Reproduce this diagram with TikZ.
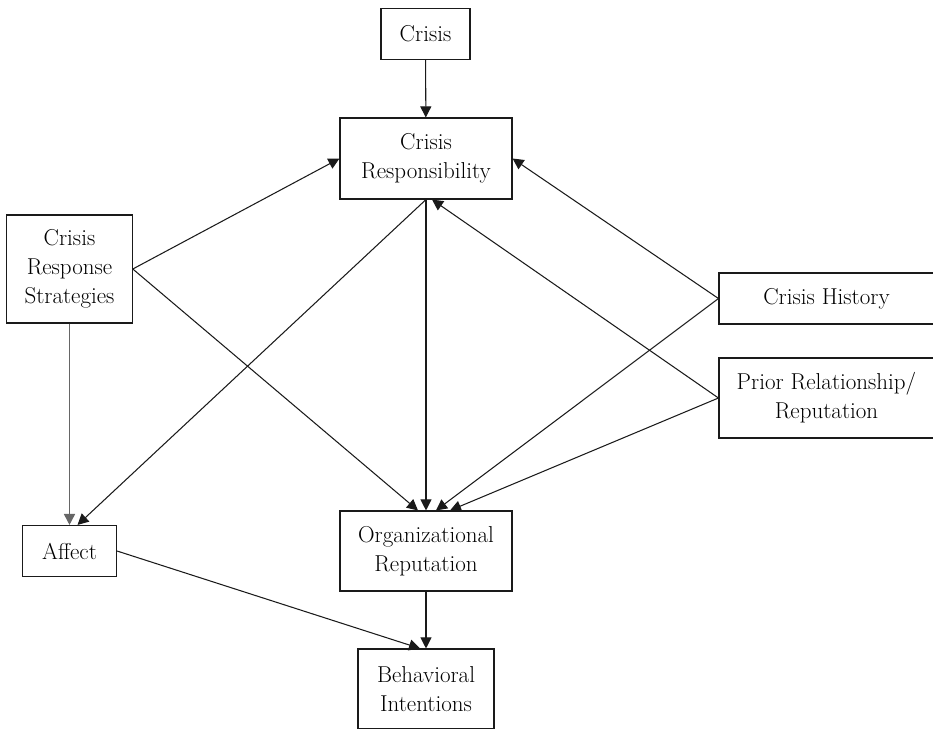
\documentclass[tikz,border=0pt]{standalone}
\usetikzlibrary{arrows.meta,calc}
\definecolor{ink}{HTML}{1A1A1A}
\definecolor{greyline}{HTML}{666666}
\tikzset{
  box/.style={draw=ink, line width=1.1pt, fill=white, inner sep=0pt, align=center,
    font=\fontsize{23}{29}\selectfont, text=black},
  link/.style={draw=ink, line width=1.05pt, -{Triangle[length=11pt,width=11pt]}},
}
\begin{document}
\begin{tikzpicture}[x=1pt,y=-1pt]
\useasboundingbox (0,0) rectangle (933,728);
\node[box, minimum width=89pt, minimum height=51pt] (crisis) at (425.5,34) {Crisis};
\node[box, minimum width=172pt, minimum height=81pt] (resp) at (426,158.5) {Crisis\\Responsibility};
\node[box, minimum width=125.5pt, minimum height=108pt] (crs) at (69.5,269) {Crisis\\Response\\Strategies};
\node[box, minimum width=215pt, minimum height=51pt] (hist) at (826.5,298.5) {Crisis History};
\node[box, minimum width=215pt, minimum height=80pt] (prior) at (826.5,398) {Prior Relationship/\\Reputation};
\node[box, minimum width=94pt, minimum height=51pt] (aff) at (69.5,551) {Affect};
\node[box, minimum width=172pt, minimum height=80pt] (org) at (426,551) {Organizational\\Reputation};
\node[box, minimum width=136pt, minimum height=80pt] (beh) at (426,689) {Behavioral\\Intentions};

\coordinate (orgA) at ($(org.north)+(-8,0)$);
\coordinate (orgC) at ($(org.north)+(10,0)$);
\coordinate (orgD) at ($(org.north)+(24,0)$);
\coordinate (affB) at ($(aff.north)+(8,0)$);
\coordinate (respB) at ($(resp.south)+(6,0)$);
\coordinate (behA) at ($(beh.north)+(-6,0)$);

\draw[link] (crisis) -- (resp);
\draw[link] (crs.east) -- (resp.west);
\draw[link] (crs.east) -- (orgA);
\draw[link, draw=greyline, line width=1.7pt] (crs.south) -- (aff.north);
\draw[link] (resp.south) -- (affB);
\draw[link] (resp.south) -- (org.north);
\draw[link] (hist.west) -- (resp.east);
\draw[link] (hist.west) -- (orgC);
\draw[link] (prior.west) -- (respB);
\draw[link] (prior.west) -- (orgD);
\draw[link] (aff.east) -- (behA);
\draw[link] (org.south) -- (beh.north);
\end{tikzpicture}
\end{document}
